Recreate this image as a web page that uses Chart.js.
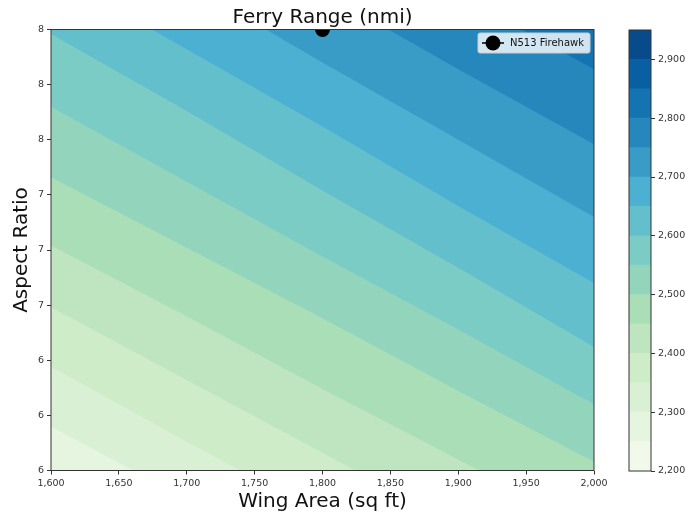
<!DOCTYPE html>
<html>
<head>
<meta charset="utf-8">
<script src="https://cdn.jsdelivr.net/npm/chart.js@4/dist/chart.umd.min.js"></script>
<style>
  body { margin: 0; background: #fff; }
  #wrap { position: relative; width: 688px; height: 515px; }
  canvas { position: absolute; top: 0; display: block; }
  #main { left: 0; }
  #bar { left: 600px; }
</style>
</head>
<body>
<div id="wrap">
  <canvas id="main" width="688" height="515"></canvas>
  <canvas id="bar" width="88" height="515"></canvas>
</div>
<script>
// wing area (sq ft) where each contour line was read
const wingArea = [1600, 1700, 1800, 1900, 2000];

// contour levels of ferry range (nmi), one colour per band
const levels = [2200, 2250, 2300, 2350, 2400, 2450, 2500, 2550, 2600, 2650, 2700, 2750, 2800, 2850, 2900, 2950];
const bandColors = [
  '#f1faea', '#e5f5df', '#d9f0d4', '#cfecc8', '#bee5bf', '#aadeb6', '#93d5bc', '#7bccc4',
  '#63bfcc', '#4cb0d2', '#399cc6', '#2687bc', '#1474b2', '#0860a3', '#084b8c'
];

// aspect ratio of each contour line at the wing areas above
const ar2300 = [6.20, 5.87, 5.55, 5.23, 4.91];
const ar2350 = [6.47, 6.13, 5.80, 5.47, 5.14];
const ar2400 = [6.74, 6.41, 6.08, 5.75, 5.42];
const ar2450 = [7.02, 6.70, 6.37, 6.05, 5.73];
const ar2500 = [7.33, 7.01, 6.69, 6.36, 6.04];
const ar2550 = [7.65, 7.31, 6.97, 6.64, 6.30];
const ar2600 = [7.98, 7.63, 7.27, 6.92, 6.56];
const ar2650 = [8.26, 7.91, 7.56, 7.20, 6.85];
const ar2700 = [8.56, 8.21, 7.85, 7.50, 7.15];
const ar2750 = [8.86, 8.51, 8.17, 7.82, 7.48];
const ar2800 = [9.18, 8.84, 8.50, 8.16, 7.82];
const contourLines = [ar2300, ar2350, ar2400, ar2450, ar2500, ar2550, ar2600, ar2650, ar2700, ar2750, ar2800];
const lineLevels = [2300, 2350, 2400, 2450, 2500, 2550, 2600, 2650, 2700, 2750, 2800];

// the aircraft
const pointName = 'N513 Firehawk';
const pointArea = 1800;
const pointAR = 8;

// ticks
const xTicks = [1600, 1650, 1700, 1750, 1800, 1850, 1900, 1950, 2000];
const xTickLabels = ['1,600', '1,650', '1,700', '1,750', '1,800', '1,850', '1,900', '1,950', '2,000'];
const yTicks = [6, 6.25, 6.5, 6.75, 7, 7.25, 7.5, 7.75, 8];
const yTickLabels = ['6', '6', '6', '7', '7', '7', '8', '8', '8'];
const cbTicks = [2200, 2300, 2400, 2500, 2600, 2700, 2800, 2900];
const cbTickLabels = ['2,200', '2,300', '2,400', '2,500', '2,600', '2,700', '2,800', '2,900'];

Chart.defaults.font.family = 'DejaVu Sans';

const tickFont = { size: 9.5 };
const tickColor = '#333';

const frame = {
  id: 'frame',
  afterDatasetsDraw(chart) {
    const { ctx, chartArea: a } = chart;
    ctx.save();
    ctx.strokeStyle = '#333';
    ctx.lineWidth = 1;
    ctx.strokeRect(a.left, a.top, a.right - a.left, a.bottom - a.top);
    ctx.restore();
  }
};

const legendBox = {
  id: 'legendBox',
  afterDraw(chart) {
    const { ctx, chartArea: a } = chart;
    const w = 112, h = 20;
    const x = a.right - 4 - w, y = a.top + 3.5;
    const cy = y + h / 2;
    ctx.save();
    ctx.fillStyle = 'rgba(255,255,255,0.8)';
    ctx.strokeStyle = '#cccccc';
    ctx.lineWidth = 1;
    ctx.beginPath();
    ctx.roundRect(x, y, w, h, 2);
    ctx.fill();
    ctx.stroke();
    ctx.strokeStyle = '#000';
    ctx.lineWidth = 1.5;
    ctx.beginPath();
    ctx.moveTo(x + 4, cy);
    ctx.lineTo(x + 26, cy);
    ctx.stroke();
    ctx.fillStyle = '#000';
    ctx.beginPath();
    ctx.arc(x + 15, cy, 7.5, 0, Math.PI * 2);
    ctx.fill();
    ctx.font = '10px "DejaVu Sans"';
    ctx.textBaseline = 'middle';
    ctx.fillStyle = '#111';
    ctx.fillText(chart.data.datasets[0].label, x + 32, cy);
    ctx.restore();
  }
};

// datasets drawn last-first, so the top band goes at the end and each
// lower band paints over the ones above it
const datasets = [{
  label: pointName,
  data: [{ x: pointArea, y: pointAR }],
  showLine: false,
  pointRadius: 7.5,
  pointBackgroundColor: '#000',
  pointBorderWidth: 0,
  fill: false,
  clip: 0
}];
contourLines.forEach((line, k) => {
  datasets.push({
    label: 'L' + lineLevels[k],
    data: wingArea.map((x, j) => ({ x, y: line[j] })),
    borderColor: 'rgba(0,0,0,0)',
    borderWidth: 0,
    pointRadius: 0,
    fill: 'start',
    backgroundColor: bandColors[levels.indexOf(lineLevels[k]) - 1],
    clip: 0
  });
});
datasets.push({
  label: 'top',
  data: wingArea.map((x, j) => ({ x, y: ar2750[j] })),
  borderColor: 'rgba(0,0,0,0)',
  borderWidth: 0,
  pointRadius: 0,
  fill: 'end',
  backgroundColor: bandColors[levels.indexOf(2800)],
  clip: 0
});

new Chart(document.getElementById('main'), {
  type: 'line',
  data: { datasets },
  options: {
    responsive: false,
    animation: false,
    events: [],
    layout: { padding: { left: 0, right: 94, top: 0, bottom: 0 } },
    plugins: {
      legend: { display: false },
      tooltip: { enabled: false }
    },
    scales: {
      // top axis only carries the title so it is centred over the plot
      xTop: {
        type: 'linear',
        position: 'top',
        min: 1600,
        max: 2000,
        afterFit: s => { s.height = 29.5; },
        ticks: { display: false },
        grid: { display: false },
        border: { display: false },
        title: { display: true, text: 'Ferry Range (nmi)', color: '#111', font: { size: 20, lineHeight: 1 }, padding: { top: 7.5, bottom: 0 } }
      },
      x: {
        type: 'linear',
        min: 1600,
        max: 2000,
        afterBuildTicks: s => { s.ticks = xTicks.map(v => ({ value: v })); },
        afterFit: s => { s.height = 44.5; },
        ticks: { callback: (v, i) => xTickLabels[i], maxRotation: 0, autoSkip: false, padding: 3, font: tickFont, color: tickColor },
        grid: { drawOnChartArea: false, tickLength: 4, color: '#333' },
        border: { display: false },
        title: { display: true, text: 'Wing Area (sq ft)', color: '#111', font: { size: 20, lineHeight: 1 }, padding: { top: 0, bottom: 3 } }
      },
      y: {
        type: 'linear',
        min: 6,
        max: 8,
        afterBuildTicks: s => { s.ticks = yTicks.map(v => ({ value: v })); },
        afterFit: s => { s.width = 51; },
        ticks: { callback: (v, i) => yTickLabels[i], autoSkip: false, padding: 3, font: tickFont, color: tickColor },
        grid: { drawOnChartArea: false, tickLength: 4, color: '#333' },
        border: { display: false },
        title: { display: true, text: 'Aspect Ratio', color: '#111', font: { size: 20, lineHeight: 1 }, padding: { top: 12, bottom: 0 } }
      }
    }
  },
  plugins: [frame, legendBox]
});

// colour bar: overlapping floating bars from the lowest level up to each band top
new Chart(document.getElementById('bar'), {
  type: 'bar',
  data: {
    labels: [''],
    datasets: bandColors.map((c, i) => ({
      data: [[levels[0], levels[i + 1]]],
      backgroundColor: c,
      borderWidth: 0,
      barPercentage: 1,
      categoryPercentage: 1,
      grouped: false
    }))
  },
  options: {
    responsive: false,
    animation: false,
    events: [],
    layout: { padding: { left: 29, right: 0, top: 30, bottom: 44 } },
    plugins: { legend: { display: false }, tooltip: { enabled: false } },
    scales: {
      x: { display: false },
      y: {
        position: 'right',
        min: levels[0],
        max: levels[levels.length - 1],
        afterBuildTicks: s => { s.ticks = cbTicks.map(v => ({ value: v })); },
        afterFit: s => { s.width = 37; },
        ticks: { callback: (v, i) => cbTickLabels[i], padding: 3, font: tickFont, color: tickColor },
        grid: { drawOnChartArea: false, tickLength: 4, color: '#333' },
        border: { display: false }
      }
    }
  },
  plugins: [frame]
});
</script>
</body>
</html>
